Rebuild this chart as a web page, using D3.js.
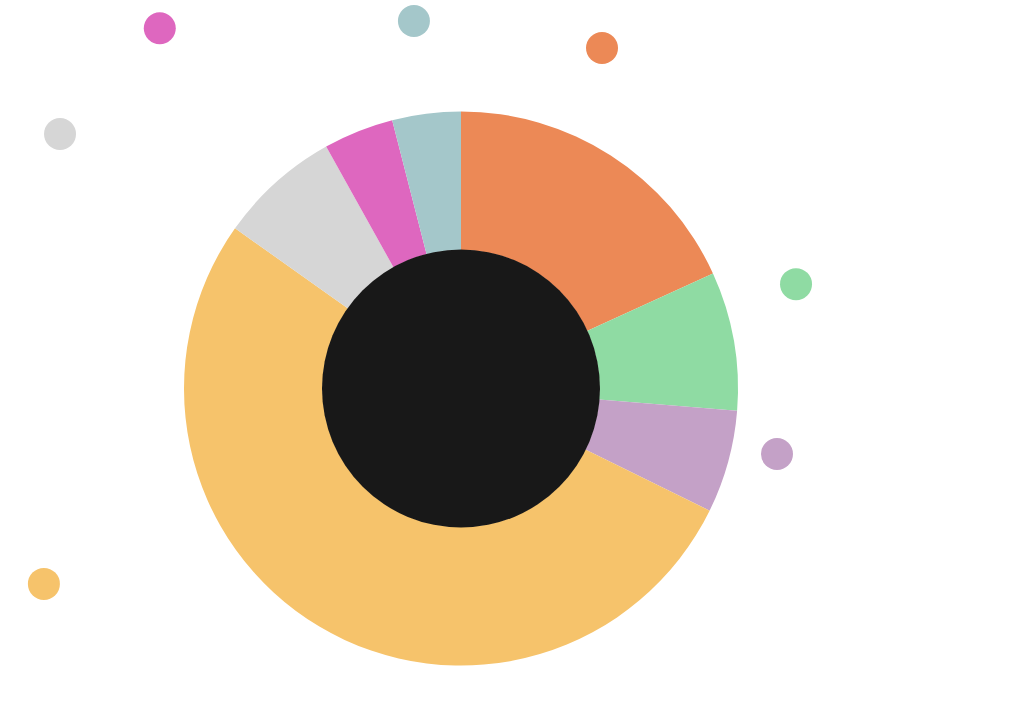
<!DOCTYPE html>
<html>
<head>
<meta charset="utf-8">
<script src="https://cdn.jsdelivr.net/npm/d3@7"></script>
<style>
  html, body { margin: 0; padding: 0; background: #fff; }
  #viz { width: 1024px; height: 704px; }
</style>
</head>
<body>
<div id="viz"></div>
<script>
// Datos (porcentaje de cada segmento, en orden horario desde arriba)
const categorias = ['A', 'B', 'C', 'D', 'E', 'F', 'G'];
const valores = [18.2, 8.1, 6.0, 52.6, 7.1, 4.1, 4.0];
const colores = ['#EC8956', '#8FDBA3', '#C4A1C7', '#F6C36B', '#D6D6D6', '#DE67BF', '#A4C7CA'];

// Posición de los marcadores (ángulo en grados, distancia al centro)
const marcadorAngulo = [22.5, 72.7, 101.7, 244.9, 302.4, 320.1, 352.7];
const marcadorRadio = [368.5, 350.9, 322.7, 460.6, 474.9, 469.6, 370.5];

const width = 1024;
const height = 704;
const cx = 461;
const cy = 388.5;
const radio = 277;

const datos = categorias.map((c, i) => ({
    categoria: c,
    valor: valores[i],
    angulo: marcadorAngulo[i] * Math.PI / 180,
    dist: marcadorRadio[i]
}));

const color = d3.scaleOrdinal().domain(categorias).range(colores);

const svg = d3.select('#viz').append('svg')
    .attr('width', width)
    .attr('height', height);

const g = svg.append('g').attr('transform', `translate(${cx},${cy})`);

const pie = d3.pie().sort(null).value(d => d.valor);
const arc = d3.arc().innerRadius(radio / 2).outerRadius(radio);

g.selectAll('.slice')
    .data(pie(datos))
    .enter().append('path')
    .attr('class', 'slice')
    .attr('d', arc)
    .attr('fill', d => color(d.data.categoria));

// Círculo central oscuro
g.append('circle')
    .attr('r', radio / 2 + 0.5)
    .attr('fill', '#181818');

// Marcadores de cada categoría
g.selectAll('.marker')
    .data(datos)
    .enter().append('circle')
    .attr('class', 'marker')
    .attr('cx', d => d3.pointRadial(d.angulo, d.dist)[0])
    .attr('cy', d => d3.pointRadial(d.angulo, d.dist)[1])
    .attr('r', 16)
    .attr('fill', d => color(d.categoria));
</script>
</body>
</html>
